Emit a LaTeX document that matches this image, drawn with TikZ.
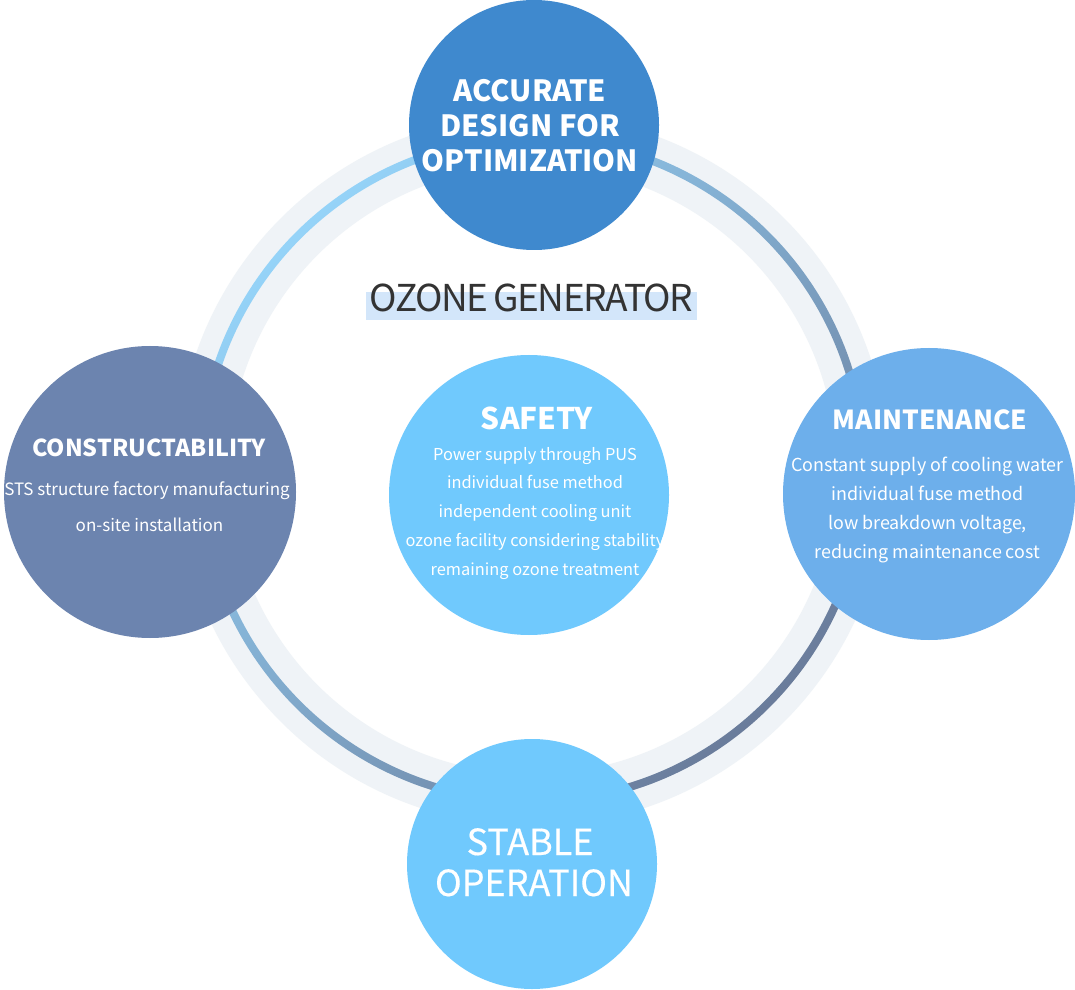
\documentclass[tikz,border=0pt]{standalone}
\usepackage{fontspec}
\setmainfont{Noto Sans CJK KR}
\newfontfamily\titlefont[LetterSpace=-4,WordSpace=0.8]{Noto Sans CJK KR}
\newfontfamily\medfont[FakeBold=0.4]{Noto Sans CJK KR}
\usetikzlibrary{shapes.geometric}
\definecolor{bandgray}{HTML}{EFF3F7}
\definecolor{ringlight}{HTML}{95D3F8}
\definecolor{ringdark}{HTML}{6A7C9B}
\definecolor{topblue}{HTML}{3F89CE}
\definecolor{leftslate}{HTML}{6C84AF}
\definecolor{rightblue}{HTML}{6DAFEB}
\definecolor{skyblue}{HTML}{70C9FD}
\definecolor{hilite}{HTML}{D3E6FA}
\definecolor{titlegray}{HTML}{333333}
\tikzset{
  bubble/.style={circle, inner sep=0pt, draw=none},
  txt/.style={anchor=base, text=white, inner sep=0pt},
}
\begin{document}
\begin{tikzpicture}[x=1pt,y=1pt]
\useasboundingbox (0,0) rectangle (1075,989);
\fill[white] (0,0) rectangle (1075,989);
% ring
\coordinate (rc) at (532.5,519);
\fill[bandgray, even odd rule] (rc) circle (356) (rc) circle (304);
\shade[even odd rule, top color=ringlight, bottom color=ringdark, shading angle=45]
  (rc) circle (335.5) (rc) circle (327.5);
% bubbles
\node[bubble, fill=topblue, minimum size=250pt] (top) at (534,864) {};
\node[bubble, fill=skyblue, minimum size=250pt] (bottom) at (532,125) {};
\node[bubble, fill=leftslate, minimum size=292pt] (left) at (150,497) {};
\node[bubble, fill=rightblue, minimum size=292pt] (right) at (929,495) {};
\node[bubble, fill=skyblue, minimum size=280pt] (center) at (529,494) {};
% title
\fill[hilite] (366,669) rectangle (697,697);
\node[anchor=base, inner sep=0pt, text=titlegray, font=\titlefont\fontsize{37}{37}\selectfont] (title) at (531.5,677.3) {OZONE GENERATOR};
% top
\foreach \t [count=\i] in {ACCURATE, DESIGN FOR, OPTIMIZATION}
  \node[txt, font=\bfseries\fontsize{29.2}{29.2}\selectfont] (top-\i) at (530,{887-(\i-1)*35}) {\t};
% bottom
\node[txt, font=\medfont\fontsize{36}{36}\selectfont] (bottom-1) at (530,134) {STABLE};
\node[txt, font=\medfont\fontsize{36}{36}\selectfont] (bottom-2) at (534,93) {OPERATION};
% center
\node[txt, font=\bfseries\fontsize{29.8}{29.8}\selectfont] (safety) at (537,559) {SAFETY};
\foreach \t [count=\i] in {Power supply through PUS, individual fuse method, independent cooling unit, ozone facility considering stability, remaining ozone treatment}
  \node[txt, font=\fontsize{16.4}{16.4}\selectfont] (safety-\i) at (535,{529-(\i-1)*28.75}) {\t};
% right
\node[txt, font=\bfseries\fontsize{26.2}{26.2}\selectfont] (maint) at (930,559) {MAINTENANCE};
\foreach \t [count=\i] in {Constant supply of cooling water, individual fuse method, {low breakdown voltage,}, reducing maintenance cost}
  \node[txt, font=\fontsize{17.9}{17.9}\selectfont] (maint-\i) at (927.5,{518-(\i-1)*29}) {\t};
% left
\node[txt, font=\bfseries\fontsize{23.3}{23.3}\selectfont] (constr) at (149,532) {CONSTRUCTABILITY};
\node[txt, font=\fontsize{17}{17}\selectfont] (constr-1) at (147,494) {STS structure factory manufacturing};
\node[txt, font=\fontsize{17}{17}\selectfont] (constr-2) at (149.5,457.3) {on-site installation};
\end{tikzpicture}
\end{document}
